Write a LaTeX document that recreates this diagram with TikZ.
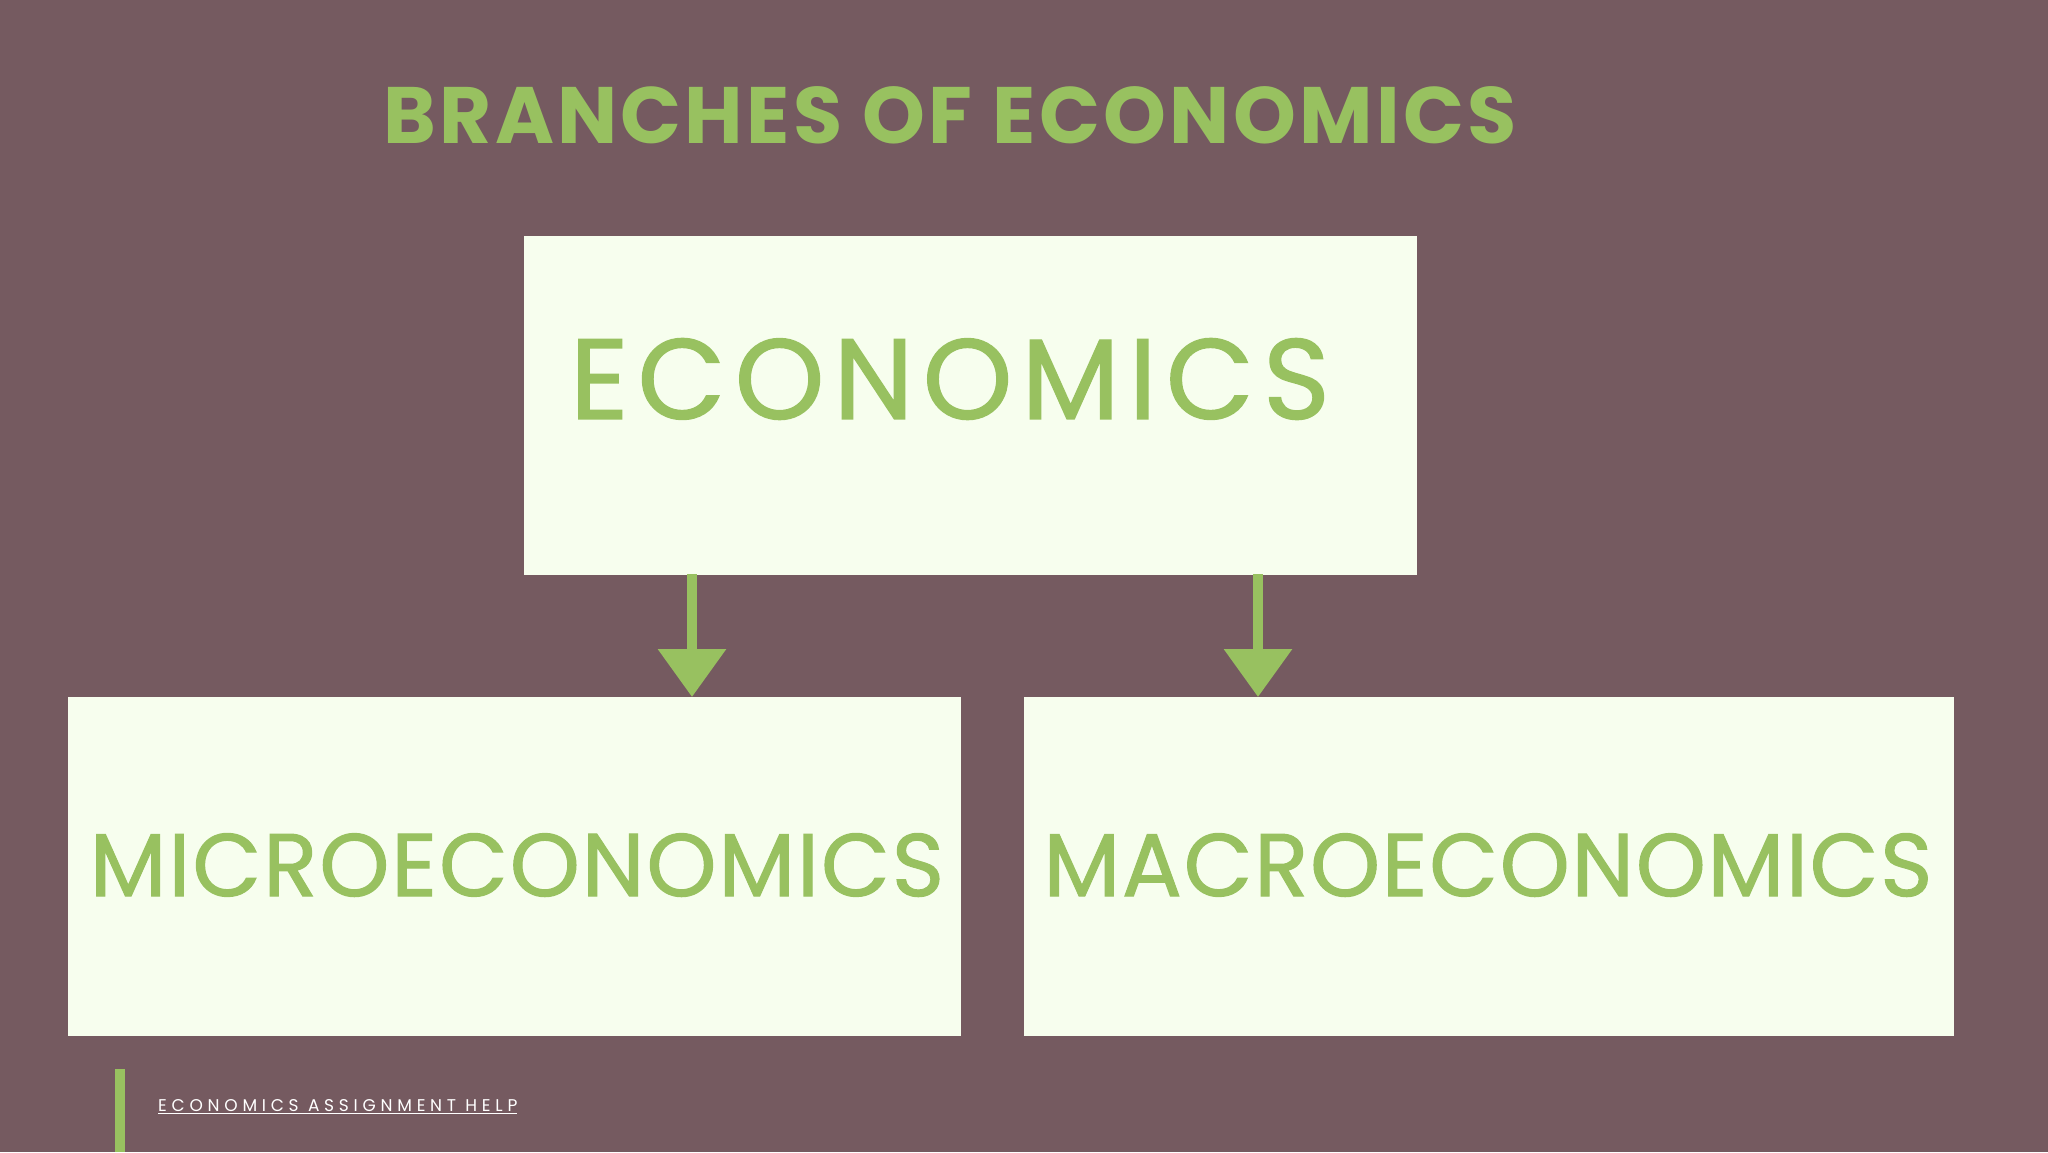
\documentclass[tikz,border=0pt]{standalone}
\usepackage{fontspec}
\setmainfont{Poppins}
\usetikzlibrary{arrows.meta}
\definecolor{bgc}{HTML}{755A60}
\definecolor{grn}{HTML}{98C160}
\definecolor{boxc}{HTML}{F7FEEE}
\tikzset{
  panel/.style={fill=boxc, draw=none, inner sep=0pt, anchor=north west},
  label/.style={text=grn, inner sep=0pt},
  link/.style={draw=grn, line width=10pt, -{Triangle[width=66pt,length=48pt]}, shorten <=-1pt},
}
\begin{document}
\begin{tikzpicture}[x=1pt,y=-1pt]
\useasboundingbox (0,0) rectangle (2048,1152);
\fill[bgc] (0,0) rectangle (2048,1152);
% title
\node[label] (title) at (950,115)
  {\fontsize{80}{82}\selectfont\bfseries\addfontfeature{LetterSpace=4.1}BRANCHES OF ECONOMICS};
% boxes
\node[panel, minimum width=893pt, minimum height=339pt] (eco) at (524,236) {};
\node[panel, minimum width=893pt, minimum height=339pt] (micro) at (68,697) {};
\node[panel, minimum width=930pt, minimum height=339pt] (macro) at (1024,697) {};
% box texts
\node[label] (ecot) at (950,379)
  {\fontsize{114}{116}\selectfont\addfontfeature{LetterSpace=8,FakeBold=1.2}ECONOMICS};
\node[label] (microt) at (517,865)
  {\fontsize{89}{90}\selectfont\addfontfeature{LetterSpace=2.3,FakeBold=1.2}MICROECONOMICS};
\node[label] (macrot) at (1488,865)
  {\fontsize{89}{90}\selectfont\addfontfeature{LetterSpace=2.0,FakeBold=1.2}MACROECONOMICS};
% arrows
\coordinate (a1) at (692,0);
\coordinate (a2) at (1258,0);
\draw[link] (eco.south -| a1) -- (micro.north -| a1);
\draw[link] (eco.south -| a2) -- (macro.north -| a2);
% footer
\fill[grn] (115,1069) rectangle (125,1152);
\node[text=white, inner sep=0pt, anchor=west] (foot) at (158,1107)
  {\fontsize{17}{18}\selectfont\addfontfeature{LetterSpace=28}\underline{ECONOMICS ASSIGNMENT HELP}};
\end{tikzpicture}
\end{document}
